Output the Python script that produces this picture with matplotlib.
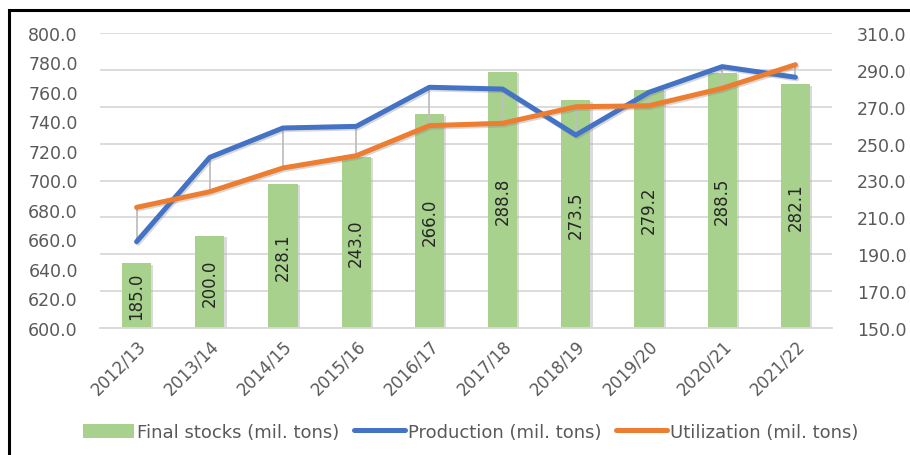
import matplotlib
matplotlib.use("Agg")
import matplotlib.pyplot as plt
import matplotlib.patheffects as pe
from matplotlib.patches import Rectangle
from matplotlib.lines import Line2D
import numpy as np

# Crop year data
seasons = ["2012/13", "2013/14", "2014/15", "2015/16", "2016/17",
           "2017/18", "2018/19", "2019/20", "2020/21", "2021/22"]
final_stocks = [185.0, 200.0, 228.1, 243.0, 266.0, 288.8, 273.5, 279.2, 288.5, 282.1]
production = [658.5, 715.7, 735.6, 736.7, 763.2, 762.0, 730.8, 759.8, 777.2, 770.0]
utilization = [681.8, 692.4, 708.5, 716.8, 737.2, 738.8, 750.0, 750.7, 762.5, 778.5]

left_ticks = np.arange(600, 801, 20)
right_ticks = np.arange(150, 311, 20)

GREEN = "#A9D18E"
BLUE = "#4472C4"
ORANGE = "#ED7D31"
GRID = "#D9D9D9"
TEXT = "#595959"

plt.rcParams["font.family"] = ["DejaVu Sans"]

fig = plt.figure(figsize=(9.1, 4.56), dpi=100)
ax = fig.add_axes([100 / 910, 1 - 329 / 456, 732 / 910, 295 / 456])
ax2 = ax.twinx()

x = np.arange(len(seasons))

# Left axis: production / utilization
ax.set_ylim(600, 800)
ax.set_xlim(-0.5, len(seasons) - 0.5)
ax.set_yticks(left_ticks)
ax.set_yticklabels([f"{v:.1f}" for v in left_ticks])

# Right axis: final stocks bars
ax2.set_ylim(150, 310)
ax2.set_yticks(right_ticks)
ax2.set_yticklabels([f"{v:.1f}" for v in right_ticks])

# Horizontal grid drawn beneath the bars
for v in right_ticks:
    ax2.axhline(v, color=GRID, linewidth=1.3, zorder=0)

bar_shadow = [pe.SimplePatchShadow(offset=(1.5, -1.0), shadow_rgbFace="#b0b0b0", alpha=0.45), pe.Normal()]
ax2.bar(x, final_stocks, width=0.40, color=GREEN, zorder=1, path_effects=bar_shadow)
for xi, v in zip(x, final_stocks):
    ax2.text(xi, 150 + (v - 150) / 2, f"{v:.1f}", rotation=90, ha="center", va="center",
             fontsize=12, color="#262626", zorder=5)

# Lines sit above the bars
ax.set_zorder(ax2.get_zorder() + 1)
ax.patch.set_visible(False)
ax2.patch.set_facecolor("white")

# High-low connectors between the two lines
ax.vlines(x, np.minimum(production, utilization), np.maximum(production, utilization),
          color="#BFBFBF", linewidth=1.3, zorder=2)

line_shadow = [pe.SimpleLineShadow(offset=(1, -1.2), shadow_color="#808080", alpha=0.3), pe.Normal()]
ax.plot(x, production, color=BLUE, linewidth=3.6, solid_capstyle="round",
        solid_joinstyle="round", zorder=3, path_effects=line_shadow)
ax.plot(x, utilization, color=ORANGE, linewidth=3.6, solid_capstyle="round",
        solid_joinstyle="round", zorder=4, path_effects=line_shadow)

ax.set_xticks(x)
ax.set_xticklabels(seasons, rotation=45, ha="right", rotation_mode="anchor")

for a in (ax, ax2):
    for s in a.spines.values():
        s.set_visible(False)
    a.tick_params(length=0, labelsize=12.5, colors=TEXT)
ax.tick_params(axis="x", labelsize=12, pad=6)
ax.tick_params(axis="y", pad=16)
ax2.tick_params(axis="y", pad=18)
ax.spines["bottom"].set_visible(True)
ax.spines["bottom"].set_color(GRID)
ax.spines["bottom"].set_linewidth(1.3)

handles = [
    Rectangle((0, 0), 1, 1, facecolor=GREEN),
    Line2D([0], [0], color=BLUE, linewidth=3.6, solid_capstyle="round"),
    Line2D([0], [0], color=ORANGE, linewidth=3.6, solid_capstyle="round"),
]
labels = ["Final stocks (mil. tons)", "Production (mil. tons)", "Utilization (mil. tons)"]
fig.legend(handles, labels, loc="center", bbox_to_anchor=(471 / 910, 1 - 433 / 456),
           ncol=3, frameon=False, fontsize=13, labelcolor=TEXT, handlelength=2.8,
           handleheight=0.8, handletextpad=0.2, columnspacing=0.8)

# Chart frame (left and top edges visible)
fig.add_artist(Rectangle((9 / 910, -0.2), 1.5, (456 - 10.5) / 456 + 0.2,
                         transform=fig.transFigure, fill=False, edgecolor="black",
                         linewidth=2.2, clip_on=False))

fig.savefig("out.png", dpi=100, facecolor="white")
